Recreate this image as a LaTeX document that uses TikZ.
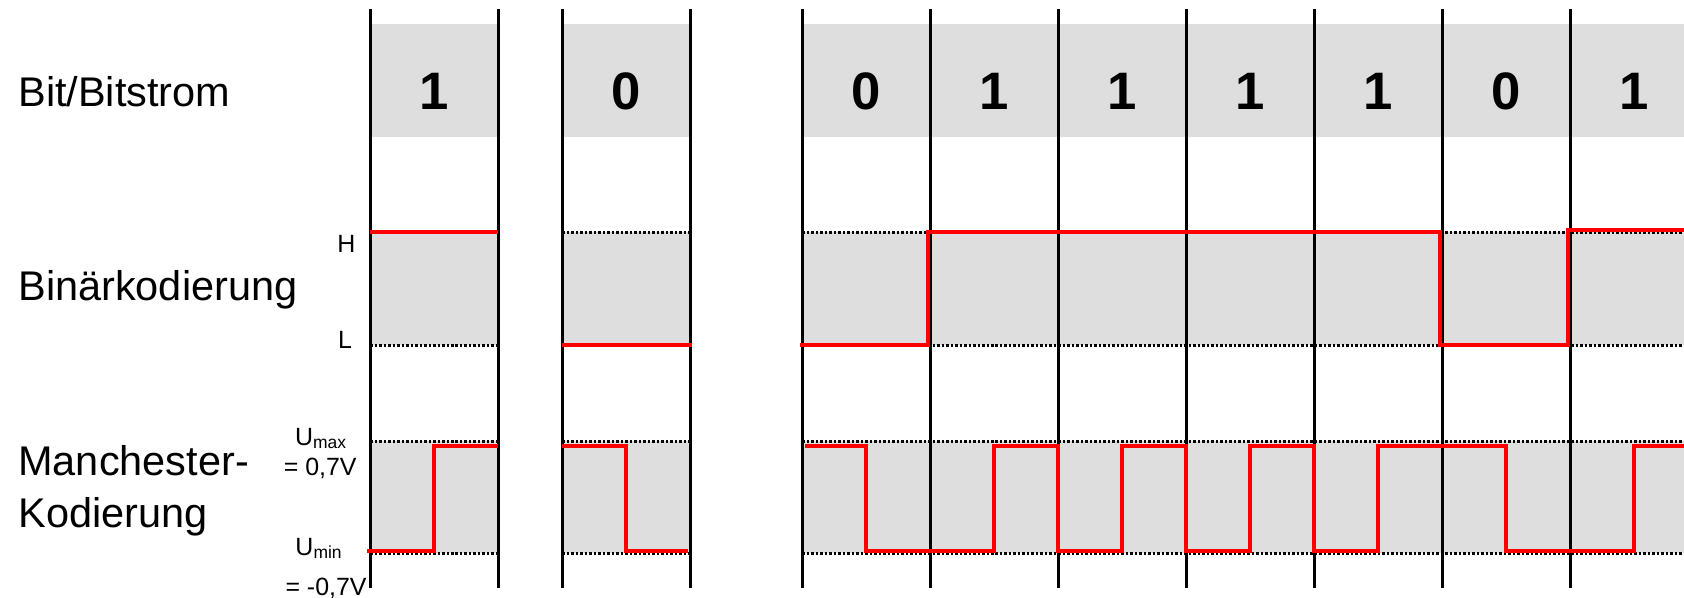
\documentclass[tikz,border=0pt]{standalone}
\usepackage{fontspec}
\setmainfont{Liberation Sans}
\usepackage{xcolor}
\definecolor{sigred}{RGB}{255,0,0}
\definecolor{bandgrey}{RGB}{222,222,222}

\begin{document}
\begin{tikzpicture}[
    band/.style={fill=bandgrey, draw=none},
    level/.style={black, line width=0.06cm, dash pattern=on 0.05cm off 0.04cm},
    divider/.style={black, line width=0.06cm},
    sig/.style={sigred, line width=0.08cm},
    rowlbl/.style={font=\fontsize{23.6}{28}\selectfont, anchor=base west, inner sep=0pt},
    bitlbl/.style={font=\fontsize{30}{36}\selectfont\bfseries, anchor=base, inner sep=0pt},
    lvllbl/.style={font=\fontsize{14.2}{17}\selectfont, inner sep=0pt}
]
    \useasboundingbox (0,0) rectangle (33.68,11.94);
    \clip (0,0) rectangle (33.68,11.94);

    % grey bands: bit row, binary, manchester
    \foreach \xa/\xb in {7.40/9.96, 11.24/13.80, 16.04/33.96} {
        \fill[band] (\xa,9.20) rectangle (\xb,11.46);
        \fill[band] (\xa,5.04) rectangle (\xb,7.30);
        \fill[band] (\xa,0.88) rectangle (\xb,3.12);
        \foreach \lv in {7.30, 5.04, 3.12, 0.88}
            \draw[level] (\xa,\lv) -- (\xb,\lv);
    }

    % bit boundaries
    \foreach \x in {7.40, 9.96, 11.24, 13.80, 16.04, 18.60, 21.16, 23.72, 26.28, 28.84, 31.40}
        \draw[divider] (\x,0.18) -- (\x,11.76);

    % bits
    \node[bitlbl] (b1) at (8.68,9.74) {1};
    \node[bitlbl] (b2) at (12.52,9.74) {0};
    \foreach \b [count=\i from 0] in {0,1,1,1,1,0,1}
        \node[bitlbl] (s\i) at (17.32+2.56*\i,9.74) {\b};

    % binary coding
    \draw[sig] (7.40,7.30) -- (9.96,7.30);
    \draw[sig] (11.24,5.04) -- (13.84,5.04);
    \draw[sig] (16.00,5.04) -- (18.55,5.04) -- (18.55,7.30) -- (28.79,7.30)
        -- (28.79,5.04) -- (31.35,5.04) -- (31.35,7.34) -- (33.96,7.34);

    % manchester coding
    \draw[sig] (7.34,0.92) -- (8.68,0.92) -- (8.68,3.02) -- (9.96,3.02);
    \draw[sig] (11.24,3.02) -- (12.52,3.02) -- (12.52,0.92) -- (13.76,0.92);
    \draw[sig] (16.10,3.02) -- (17.32,3.02) -- (17.32,0.92) -- (19.88,0.92)
        -- (19.88,3.02) -- (21.16,3.02) -- (21.16,0.92) -- (22.44,0.92)
        -- (22.44,3.02) -- (23.72,3.02) -- (23.72,0.92) -- (25.00,0.92)
        -- (25.00,3.02) -- (26.28,3.02) -- (26.28,0.92) -- (27.56,0.92)
        -- (27.56,3.02) -- (30.12,3.02) -- (30.12,0.92) -- (32.68,0.92)
        -- (32.68,3.02) -- (33.96,3.02);

    % row labels
    \node[rowlbl] (bitrow) at (0.36,9.80) {Bit/Bitstrom};
    \node[rowlbl] (binrow) at (0.36,5.94) {Binärkodierung};
    \node[rowlbl] (manrow) at (0.36,2.44) {Manchester-};
    \node[rowlbl] (kodrow) at (0.36,1.40) {Kodierung};

    % level labels
    \node[lvllbl, anchor=base] (hlbl) at (6.93,6.90) {H};
    \node[lvllbl, anchor=base] (llbl) at (6.90,4.98) {L};
    \node[lvllbl, anchor=base] (umax) at (6.42,3.04) {U\textsubscript{max}};
    \node[lvllbl, anchor=base east] (umaxv) at (7.14,2.44) {= 0,7V};
    \node[lvllbl, anchor=base] (umin) at (6.38,0.84) {U\textsubscript{min}};
    \node[lvllbl, anchor=base east] (uminv) at (7.34,0.04) {= -0,7V};
\end{tikzpicture}
\end{document}
